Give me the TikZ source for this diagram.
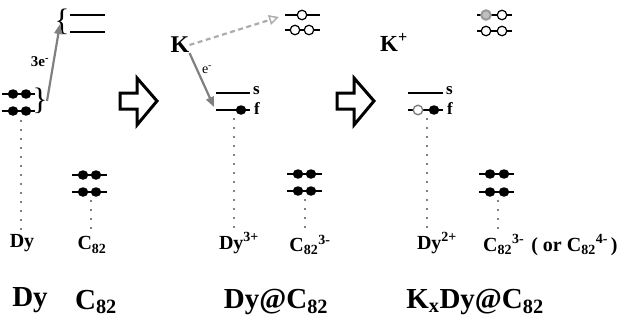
\documentclass[tikz,border=0pt]{standalone}
\usepackage{fontspec}
\setmainfont{Liberation Serif}
\usetikzlibrary{arrows.meta,shapes.geometric}
\begin{document}
\begin{tikzpicture}[x=1pt,y=-1pt,
  level/.style={line width=2.9pt},
  edot/.style={ellipse,fill=black,inner sep=0pt,minimum width=10.5pt,minimum height=9.5pt},
  hdot/.style={circle,draw=black,fill=white,line width=1.2pt,inner sep=0pt,minimum size=9.5pt},
  ghdot/.style={circle,draw=gray,fill=white,line width=1.4pt,inner sep=0pt,minimum size=9.5pt},
  grdot/.style={circle,draw=gray!80,fill=gray!50,line width=2pt,inner sep=0pt,minimum size=9.5pt},
  dots/.style={line width=1.7pt,line cap=round,dash pattern=on 0pt off 9pt},
  lbl/.style={font=\bfseries\fontsize{20}{20}\selectfont,inner sep=0pt},
  biglbl/.style={font=\bfseries\fontsize{29}{29}\selectfont,inner sep=0pt},
  orb/.style={font=\bfseries\fontsize{17}{17}\selectfont,inner sep=0pt,anchor=west},
  brc/.style={font=\fontsize{31}{31}\selectfont,inner sep=0pt},
  bigarrow/.style={line width=3pt,line join=miter,fill=white},
  garrow/.style={draw=gray,line width=2.2pt,-{Triangle[length=10pt,width=8pt]}},
  darrow/.style={draw=gray!65,line width=2.2pt,dash pattern=on 5pt off 3.5pt,-{Triangle[open,length=10pt,width=10pt,line width=1.5pt]}}
]
\useasboundingbox (0,0) rectangle (622,324);

% ---------- Panel 1 : Dy and C82 ----------
\draw[level] (2,94) -- (35,94);
\draw[level] (2,111) -- (35,111);
\node[edot] (d1a) at (13,94) {};
\node[edot] (d1b) at (26,94) {};
\node[edot] (d2a) at (13,111) {};
\node[edot] (d2b) at (26,111) {};
\node[brc] (br1) at (40,101) {\}};
\draw[level] (70,15) -- (105,15);
\draw[level] (70,32) -- (105,32);
\node[brc] (br2) at (62,22) {\{};
\coordinate (b1) at (47,101);
\coordinate (b2) at (60,24);
\draw[garrow] (b1) -- (b2);
\node[font=\bfseries\fontsize{15}{15}\selectfont,inner sep=0pt] (e3) at (40,62) {3e\textsuperscript{-}};
\draw[dots] (21,121) -- (21,231);

\draw[level] (72,175) -- (107,175);
\draw[level] (72,192) -- (107,192);
\node[edot] (c1a) at (83,175) {};
\node[edot] (c1b) at (96,175) {};
\node[edot] (c1c) at (83,192) {};
\node[edot] (c1d) at (96,192) {};
\draw[dots] (91,201) -- (91,231);

\node[lbl] (ldy) at (22,243) {Dy};
\node[lbl] (lc1) at (92,245) {C\textsubscript{82}};
\node[biglbl] (bdy) at (30,300) {Dy};
\node[biglbl] (bc1) at (96,302) {C\textsubscript{82}};

% hollow arrows
\draw[bigarrow] (120,93) -- (137,93) -- (137,78) -- (157,101) -- (137,125) -- (137,109) -- (120,109) -- cycle;
\draw[bigarrow] (337,93) -- (354,93) -- (354,78) -- (374,101) -- (354,125) -- (354,109) -- (337,109) -- cycle;

% ---------- Panel 2 : Dy@C82 ----------
\node[font=\bfseries\fontsize{24}{24}\selectfont,inner sep=0pt] (K) at (180,45) {K};
\draw[level] (285,15) -- (320,15);
\draw[level] (285,30) -- (320,30);
\node[hdot] (u1) at (302,15) {};
\node[hdot] (u2) at (295,30) {};
\node[hdot] (u3) at (309,30) {};
\coordinate (utop) at (279,17);
\draw[darrow] (K.east) -- (utop);
\coordinate (fend) at (214,107);
\draw[garrow] (K.south east) -- (fend);
\node[font=\fontsize{14}{14}\selectfont,inner sep=0pt] (e1) at (207,70) {e\textsuperscript{-}};

\draw[level] (216,93) -- (250,93);
\node[orb] (s2) at (253,91) {s};
\draw[level] (216,110) -- (250,110);
\node[edot] (f2) at (241,110) {};
\node[orb] (f2l) at (254,109) {f};
\draw[dots] (234,119) -- (234,231);

\draw[level] (287,174) -- (322,174);
\draw[level] (287,191) -- (322,191);
\node[edot] (c2a) at (298,174) {};
\node[edot] (c2b) at (311,174) {};
\node[edot] (c2c) at (298,191) {};
\node[edot] (c2d) at (311,191) {};
\draw[dots] (305,200) -- (305,231);

\node[lbl] (ldy3) at (239,243) {Dy\textsuperscript{3+}};
\node[lbl] (lc2) at (310,245) {C\textsubscript{82}\textsuperscript{3-}};
\node[biglbl] (bdyc) at (276,302) {Dy@C\textsubscript{82}};

% ---------- Panel 3 : KxDy@C82 ----------
\node[font=\bfseries\fontsize{23}{23}\selectfont,inner sep=0pt] (Kp) at (394,42) {K\textsuperscript{+}};
\draw[level] (477,15) -- (512,15);
\draw[level] (477,31) -- (512,31);
\node[grdot] (v1) at (486,15) {};
\node[hdot] (v2) at (502,15) {};
\node[hdot] (v3) at (486,31) {};
\node[hdot] (v4) at (502,31) {};

\draw[level] (408,93) -- (443,93);
\node[orb] (s3) at (446,91) {s};
\draw[level] (408,110) -- (443,110);
\node[ghdot] (f3a) at (418,110) {};
\node[edot] (f3b) at (434,110) {};
\node[orb] (f3l) at (447,109) {f};
\draw[dots] (427,119) -- (427,231);

\draw[level] (479,174) -- (514,174);
\draw[level] (479,192) -- (514,192);
\node[edot] (c3a) at (490,174) {};
\node[edot] (c3b) at (504,174) {};
\node[edot] (c3c) at (490,192) {};
\node[edot] (c3d) at (504,192) {};
\draw[dots] (498,201) -- (498,231);

\node[lbl] (ldy2) at (437,243) {Dy\textsuperscript{2+}};
\node[lbl,anchor=west] (lc3) at (483,245) {C\textsubscript{82}\textsuperscript{3-}\hspace{7pt}( or C\textsubscript{82}\textsuperscript{4-}\hspace{3pt})};
\node[biglbl] (bk) at (475,302) {K\textsubscript{x}Dy@C\textsubscript{82}};
\end{tikzpicture}
\end{document}
